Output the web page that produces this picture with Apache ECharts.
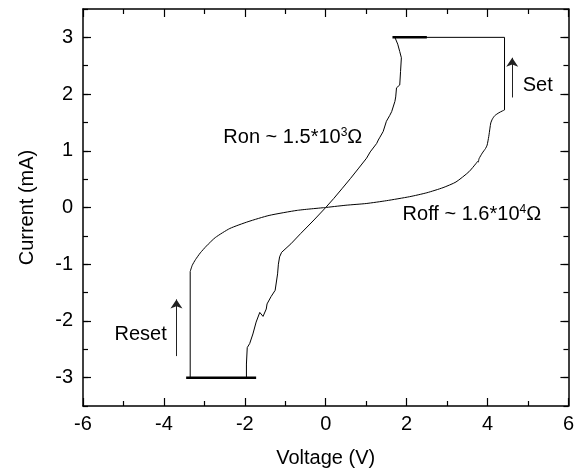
<!DOCTYPE html>
<html>
<head>
<meta charset="utf-8">
<script src="https://cdn.jsdelivr.net/npm/echarts@6/dist/echarts.min.js"></script>
<style>
  html, body { margin: 0; padding: 0; background: #fff; }
  #chart { width: 577px; height: 474px; }
</style>
</head>
<body>
<div id="chart"></div>
<script>
// I-V loop, traced branch by branch (voltage V, current mA)
const roffPositive = [
  [0, 0], [0.5, 0.04], [1.0, 0.07], [1.5, 0.12], [2.07, 0.19], [2.5, 0.26], [2.9, 0.35],
  [3.22, 0.45], [3.54, 0.63], [3.72, 0.78], [3.75, 0.81], [3.77, 0.80], [3.79, 0.86],
  [3.87, 0.96], [3.95, 1.04], [3.99, 1.10], [4.03, 1.25], [4.06, 1.40], [4.08, 1.49],
  [4.12, 1.56], [4.18, 1.62], [4.28, 1.67], [4.36, 1.70], [4.42, 1.72]
]
const setJump = [[4.42, 1.72], [4.42, 3.0], [1.71, 3.0]]
const ronPositive = [
  [1.71, 3.0], [1.78, 2.88], [1.83, 2.75], [1.87, 2.64], [1.85, 2.40], [1.83, 2.16],
  [1.75, 2.11], [1.73, 1.95], [1.71, 1.87], [1.63, 1.69], [1.58, 1.62], [1.50, 1.52],
  [1.42, 1.34], [1.34, 1.24], [1.30, 1.19], [1.26, 1.13], [1.22, 1.15], [1.10, 0.98],
  [1.01, 0.87], [0.80, 0.68], [0.61, 0.51], [0.40, 0.33], [0.20, 0.16], [0, 0]
]
const ronNegative = [
  [0, 0], [-0.29, -0.22], [-0.62, -0.46], [-0.86, -0.64], [-1.09, -0.79], [-1.14, -0.87],
  [-1.17, -1.0], [-1.19, -1.17], [-1.25, -1.46], [-1.35, -1.57], [-1.45, -1.70],
  [-1.47, -1.79], [-1.55, -1.92], [-1.63, -1.85], [-1.72, -2.02], [-1.80, -2.23],
  [-1.88, -2.40], [-1.94, -2.47], [-1.96, -2.76], [-1.96, -3.0]
]
const resetJump = [[-1.96, -3.0], [-3.35, -3.0], [-3.35, -1.13]]
const roffNegative = [
  [-3.35, -1.13], [-3.30, -1.02], [-3.22, -0.92], [-3.10, -0.80], [-2.95, -0.68],
  [-2.73, -0.53], [-2.37, -0.37], [-1.92, -0.25], [-1.40, -0.14], [-0.70, -0.05], [0, 0]
]
const complianceTop = [[1.65, 3.0], [2.5, 3.0]]
const complianceBottom = [[-3.45, -3.0], [-1.72, -3.0]]

const setArrow = [[4.61, 1.94], [4.61, 2.64]]
const resetArrow = [[-3.69, -2.62], [-3.69, -1.62]]

const yMajorTicks = [-3, -2, -1, 0, 1, 2, 3]

const annotations = [
  { at: [-2.53, 1.23], text: '{a|Ron ~ 1.5*10}{s|3}{a|Ω}' },
  { at: [1.90, -0.12], text: '{a|Roff ~ 1.6*10}{s|4}{a|Ω}' },
  { at: [4.87, 2.16], text: '{a|Set}' },
  { at: [-5.22, -2.24], text: '{a|Reset}' }
]

const FONT = 'Liberation Sans, Arial, sans-serif'
const chart = echarts.init(document.getElementById('chart'))

function boxAxis(position, extra) {
  return Object.assign({
    type: 'value',
    position: position,
    axisLine: { show: true, onZero: false, lineStyle: { color: '#000', width: 1.5 } },
    axisTick: { show: true, inside: true, length: 8, lineStyle: { color: '#000', width: 1.2 } },
    minorTick: { show: true, splitNumber: 2, length: 5, lineStyle: { color: '#000', width: 1.2 } },
    splitLine: { show: false },
    axisLabel: { show: false }
  }, extra)
}

// y axis: range -3.5..3.5, so majors come from custom values and halves from an overlay axis
function yMajorAxis(position, extra) {
  return boxAxis(position, Object.assign({
    min: -3.5, max: 3.5,
    axisTick: {
      show: true, inside: true, length: 8, customValues: yMajorTicks,
      lineStyle: { color: '#000', width: 1.2 }
    },
    minorTick: { show: false }
  }, extra))
}

function yMinorAxis(position) {
  return {
    type: 'value',
    position: position,
    min: -3.5, max: 3.5, interval: 0.5,
    axisLine: { show: false, onZero: false },
    axisTick: { show: true, inside: true, length: 5, lineStyle: { color: '#000', width: 1.2 } },
    axisLabel: { show: false },
    splitLine: { show: false }
  }
}

function branch(data, smooth, width) {
  return {
    type: 'line',
    data: data,
    smooth: smooth ? 0.2 : false,
    showSymbol: false,
    symbol: 'none',
    lineStyle: { color: '#000', width: width || 1 },
    silent: true
  }
}

const xRange = { min: -6, max: 6, interval: 2 }

chart.setOption({
  animation: false,
  backgroundColor: '#fff',
  grid: { left: 83, right: 3, top: 9, bottom: 68 },
  xAxis: [
    boxAxis('bottom', Object.assign({}, xRange, {
      name: 'Voltage (V)',
      nameLocation: 'middle',
      nameGap: 42,
      nameTextStyle: { color: '#000', fontSize: 20, fontFamily: FONT },
      axisLabel: { show: true, color: '#000', fontSize: 20, fontFamily: FONT, margin: 8 }
    })),
    boxAxis('top', Object.assign({}, xRange))
  ],
  yAxis: [
    yMajorAxis('left', {
      name: 'Current (mA)',
      nameLocation: 'middle',
      nameGap: 46,
      nameTextStyle: { color: '#000', fontSize: 20, fontFamily: FONT },
      axisLabel: {
        show: true, color: '#000', fontSize: 20, fontFamily: FONT, margin: 10,
        customValues: yMajorTicks
      }
    }),
    yMajorAxis('right', {}),
    yMinorAxis('left'),
    yMinorAxis('right')
  ],
  series: [
    branch(roffPositive, true),
    branch(setJump, false),
    branch(ronPositive, false),
    branch(ronNegative, false),
    branch(resetJump, false),
    branch(roffNegative, true),
    branch(complianceTop, false, 2.5),
    branch(complianceBottom, false, 2.5),
    {
      type: 'line',
      data: [],
      markLine: {
        silent: true,
        animation: false,
        symbol: ['none', 'arrow'],
        symbolSize: 9,
        label: { show: false },
        lineStyle: { color: '#222', width: 1, type: 'solid' },
        data: [
          [{ coord: setArrow[0] }, { coord: setArrow[1] }],
          [{ coord: resetArrow[0] }, { coord: resetArrow[1] }]
        ]
      }
    }
  ]
})

const rich = {
  a: { fontSize: 20, fontFamily: FONT, color: '#000', lineHeight: 22 },
  s: { fontSize: 12, fontFamily: FONT, color: '#000', verticalAlign: 'top', lineHeight: 22, padding: [0, 0, 8, 0] }
}

chart.setOption({
  graphic: annotations.map((a) => {
    const p = chart.convertToPixel({ gridIndex: 0 }, a.at)
    return {
      type: 'text',
      x: p[0],
      y: p[1],
      silent: true,
      style: { text: a.text, rich: rich, verticalAlign: 'middle', align: 'left' }
    }
  })
})
</script>
</body>
</html>
